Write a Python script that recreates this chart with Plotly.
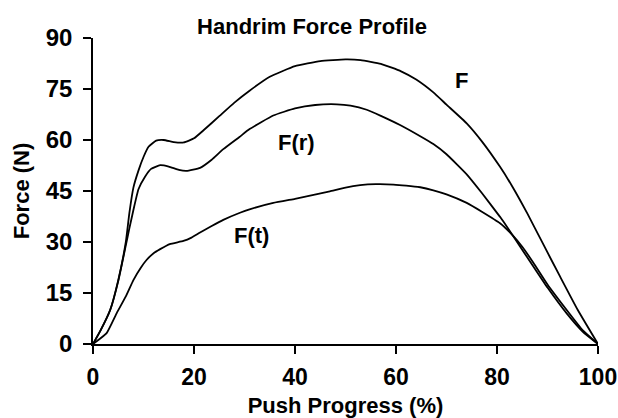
import plotly.graph_objects as go

# Data
f_x = [0, 1.5, 3.4, 5, 6.5, 7.2, 8, 9, 10, 11, 12.5, 14, 16, 18, 20, 22, 25, 28, 31, 35, 40,
       45, 50, 53, 57, 61, 64, 67.4, 70, 74, 77, 80.6, 83, 86, 89, 92.5, 96, 100]
f_y = [0, 4, 10, 18.8, 30, 38.5, 46, 51, 55, 58, 59.8, 60, 59.4, 59.3, 60.5, 63, 67, 71, 74.5, 78.6, 81.7,
       83.2, 83.7, 83.5, 82.4, 80.2, 77.8, 74, 70.4, 64.9, 59.6, 52.1, 46.4, 38.4, 29.8, 19.8, 10, 0]

fr_x = [0, 1.5, 3.4, 5, 6.5, 7.2, 8, 9, 10.3, 11.5, 13.3, 15, 17, 18.5, 21.2, 23.5, 25.8, 29, 31, 35.7,
        40, 44, 48.3, 51, 54.2, 57, 60.8, 64.8, 67.4, 70, 74, 77, 80.6, 82, 84.5, 87.2, 90, 93.8, 97, 100]
fr_y = [0, 4, 10, 18.5, 29, 34, 39.4, 45.5, 49.2, 51.5, 52.6, 52.2, 51.2, 50.9, 51.8, 54.2, 57.3, 60.9, 63.2, 67.2,
        69.3, 70.3, 70.5, 70.1, 68.9, 67.1, 64.4, 61.1, 58.8, 55.8, 49.9, 44.4, 37.4, 34.4, 28.8, 22.8, 16.6, 9, 3.6, 0]

ft_x = [0, 2.7, 4.7, 6.5, 8, 9.5, 10.6, 12, 13.3, 15.2, 17.9, 19.5, 21.2, 23.5, 25.8, 29.1, 31, 35.7, 40,
        42.3, 46.9, 50, 52.9, 56, 59.5, 62, 64.8, 67.4, 70, 74, 77, 80.6, 83.2, 85, 87.2, 90, 93.8, 97, 100]
ft_y = [0, 3.2, 9.1, 14, 18.8, 22.5, 24.7, 26.7, 27.9, 29.4, 30.3, 31.3, 32.8, 34.7, 36.5, 38.6, 39.6, 41.5, 42.7,
        43.4, 44.9, 46, 46.7, 47, 46.9, 46.6, 46.1, 45.2, 44, 41.5, 38.9, 35.5, 31.8, 28.6, 23.9, 17.5, 10, 4, 0]

series = [("F", f_x, f_y), ("F(r)", fr_x, fr_y), ("F(t)", ft_x, ft_y)]

label_text = ["F", "F(r)", "F(t)"]
label_x = [72.9, 40.2, 31.3]
label_y = [77.4, 59.4, 31.8]

x_ticks = [0, 20, 40, 60, 80, 100]
y_ticks = [0, 15, 30, 45, 60, 75, 90]

FONT = "Arial, Liberation Sans, sans-serif"

W, H = 618, 418

fig = go.Figure()
for name, xs, ys in series:
    fig.add_trace(go.Scatter(x=xs, y=ys, mode="lines", name=name,
                             line=dict(color="black", width=1.8, shape="spline", smoothing=0.4),
                             showlegend=False, hoverinfo="skip", cliponaxis=False))

for t, lx, ly in zip(label_text, label_x, label_y):
    fig.add_annotation(x=lx, y=ly, text=t, showarrow=False,
                       font=dict(family=FONT, size=22, color="black", weight="bold"),
                       xanchor="center", yanchor="middle")

fig.update_layout(
    width=W, height=H,
    margin=dict(l=93, r=20, t=38, b=74),
    paper_bgcolor="white", plot_bgcolor="white",
    font=dict(family=FONT, color="black"),
    title=dict(text="Handrim Force Profile", x=312 / W, xref="container", xanchor="center",
               y=1 - 26 / H, yref="container", yanchor="middle",
               font=dict(family=FONT, size=22, color="black", weight="bold")),
)
fig.update_xaxes(range=[0, 100], tickvals=x_ticks, showgrid=False, zeroline=False,
                 automargin=False,
                 showline=True, linecolor="black", linewidth=1.5,
                 ticks="outside", ticklen=8, tickwidth=1.5, tickcolor="black",
                 ticklabelstandoff=4,
                 tickfont=dict(family=FONT, size=23, color="black", weight="bold"),
                 title=dict(text="Push Progress (%)", standoff=11,
                            font=dict(family=FONT, size=22, color="black", weight="bold")))
fig.update_yaxes(range=[0, 90], tickvals=y_ticks, showgrid=False, zeroline=False,
                 automargin=False,
                 showline=True, linecolor="black", linewidth=1.5,
                 ticks="outside", ticklen=8, tickwidth=1.5, tickcolor="black",
                 ticklabelstandoff=6,
                 tickfont=dict(family=FONT, size=24, color="black", weight="bold"),
                 title=dict(text="Force (N)", standoff=10,
                            font=dict(family=FONT, size=22, color="black", weight="bold")))

fig.write_html("out.html", config={"displayModeBar": False},
               post_script="document.body.style.margin='0';document.body.style.overflow='hidden';")
